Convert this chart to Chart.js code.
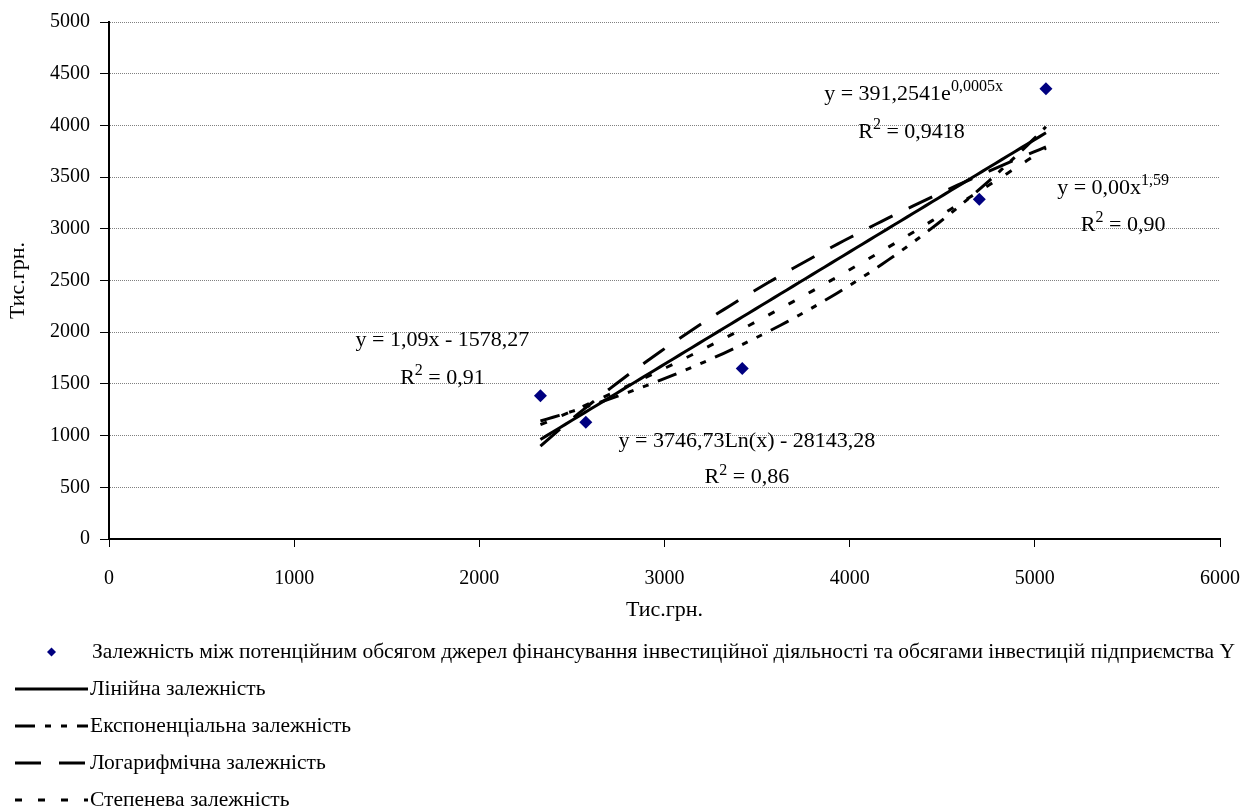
<!DOCTYPE html>
<html>
<head>
<meta charset="utf-8">
<script src="https://cdn.jsdelivr.net/npm/chart.js@4.4.1/dist/chart.umd.min.js"></script>
<style>
  html, body { margin: 0; padding: 0; background: #ffffff; }
  #wrap { width: 1260px; height: 812px; }
</style>
</head>
<body>
<div id="wrap"><canvas id="chart" width="1260" height="812"></canvas></div>
<script>
// Observed pairs: potential volume of financing sources (X) vs. investment volume (Y), thous. UAH
const sourcesX = [2330, 2575, 3420, 4700, 5060];
const investY  = [1385, 1130, 1650, 3285, 4355];

const xTickValues = [0, 1000, 2000, 3000, 4000, 5000, 6000];
const yTickValues = [0, 500, 1000, 1500, 2000, 2500, 3000, 3500, 4000, 4500, 5000];

const seriesNames = [
  'Залежність між потенційним обсягом джерел фінансування інвестиційної діяльності та обсягами інвестицій підприємства Y',
  'Лінійна залежність',
  'Експоненціальна залежність',
  'Логарифмічна залежність',
  'Степенева залежність'
];

const axisTitle = 'Тис.грн.';

// Trendline equation labels (segments; sup = superscript)
const equationLabels = [
  [{ t: 'y = 391,2541e' }, { t: '0,0005x', sup: true }],
  [{ t: 'R' }, { t: '2', sup: true }, { t: ' = 0,9418' }],
  [{ t: 'y = 0,00x' }, { t: '1,59', sup: true }],
  [{ t: 'R' }, { t: '2', sup: true }, { t: ' = 0,90' }],
  [{ t: 'y = 1,09x - 1578,27' }],
  [{ t: 'R' }, { t: '2', sup: true }, { t: ' = 0,91' }],
  [{ t: 'y = 3746,73Ln(x) - 28143,28' }],
  [{ t: 'R' }, { t: '2', sup: true }, { t: ' = 0,86' }]
];
// Where each label sits, in axis units
const labelAnchorX = [4345, 4334, 5423, 5477, 1801, 1801, 3445, 3445];
const labelAnchorY = [4315, 3948, 3407, 3050, 1940, 1573, 956, 608];

const FAMILY = "'Liberation Serif', 'Times New Roman', serif";

// Least-squares fit of v = slope * u + intercept
function leastSquares(u, v) {
  const n = u.length;
  const mu = u.reduce((a, b) => a + b, 0) / n;
  const mv = v.reduce((a, b) => a + b, 0) / n;
  let suv = 0, suu = 0;
  for (let i = 0; i < n; i++) {
    suv += (u[i] - mu) * (v[i] - mv);
    suu += (u[i] - mu) * (u[i] - mu);
  }
  const slope = suv / suu;
  return { slope, intercept: mv - slope * mu };
}

const linFit = leastSquares(sourcesX, investY);
const logFit = leastSquares(sourcesX.map(Math.log), investY);
const expFit = leastSquares(sourcesX, investY.map(Math.log));
const powFit = leastSquares(sourcesX.map(Math.log), investY.map(Math.log));

const trendModels = [
  x => linFit.slope * x + linFit.intercept,
  x => Math.exp(expFit.intercept + expFit.slope * x),
  x => logFit.slope * Math.log(x) + logFit.intercept,
  x => Math.exp(powFit.intercept + powFit.slope * Math.log(x))
];

const xMinData = Math.min(...sourcesX);
const xMaxData = Math.max(...sourcesX);
function trendPoints(model) {
  const pts = [];
  const steps = 80;
  for (let i = 0; i <= steps; i++) {
    const x = xMinData + (xMaxData - xMinData) * i / steps;
    pts.push({ x, y: model(x) });
  }
  return pts;
}

const lineDashes = [[], [20, 10, 6, 10, 6, 10], [26, 18], [7, 16]];

const datasets = [
  {
    label: seriesNames[0],
    type: 'scatter',
    data: sourcesX.map((x, i) => ({ x, y: investY[i] })),
    pointStyle: 'rectRot',
    pointRadius: 6.5,
    pointHoverRadius: 6.5,
    backgroundColor: '#000080',
    borderColor: '#000080',
    borderWidth: 0,
    showLine: false
  }
];
trendModels.forEach((m, i) => {
  datasets.push({
    label: seriesNames[i + 1],
    type: 'line',
    data: trendPoints(m),
    borderColor: '#000000',
    borderWidth: 3,
    borderDash: lineDashes[i],
    pointRadius: 0,
    fill: false,
    tension: 0
  });
});

// Equation labels drawn with superscripts
function drawRich(ctx, segs, cx, cy, size) {
  const supSize = Math.round(size * 0.72);
  let w = 0;
  segs.forEach(s => {
    ctx.font = (s.sup ? supSize : size) + 'px ' + FAMILY;
    w += ctx.measureText(s.t).width;
  });
  let x = cx - w / 2;
  const base = cy + size * 0.33;
  ctx.textBaseline = 'alphabetic';
  ctx.textAlign = 'left';
  segs.forEach(s => {
    ctx.font = (s.sup ? supSize : size) + 'px ' + FAMILY;
    ctx.fillText(s.t, x, s.sup ? base - size * 0.4 : base);
    x += ctx.measureText(s.t).width;
  });
}

const equationPlugin = {
  id: 'equations',
  afterDatasetsDraw(chart) {
    const { ctx, scales } = chart;
    ctx.save();
    ctx.fillStyle = '#000';
    equationLabels.forEach((segs, i) => {
      drawRich(ctx, segs, scales.x.getPixelForValue(labelAnchorX[i]),
        scales.y.getPixelForValue(labelAnchorY[i]), 22);
    });
    ctx.restore();
  }
};

// Vertical legend under the plot
const legendPlugin = {
  id: 'stackedLegend',
  afterDraw(chart) {
    const { ctx } = chart;
    const rowTop = 652, rowGap = 37;
    const sampleL = 15, sampleR = 88, textX = 90;
    ctx.save();
    chart.data.datasets.forEach((ds, i) => {
      const y = rowTop + i * rowGap;
      if (ds.type === 'scatter') {
        const cx = (sampleL + sampleR) / 2, r = 4.5;
        ctx.fillStyle = ds.backgroundColor;
        ctx.beginPath();
        ctx.moveTo(cx, y - r); ctx.lineTo(cx + r, y); ctx.lineTo(cx, y + r); ctx.lineTo(cx - r, y);
        ctx.closePath();
        ctx.fill();
      } else {
        ctx.strokeStyle = ds.borderColor;
        ctx.lineWidth = 3;
        ctx.setLineDash(ds.borderDash);
        ctx.beginPath();
        ctx.moveTo(sampleL, y); ctx.lineTo(sampleR, y);
        ctx.stroke();
        ctx.setLineDash([]);
      }
      ctx.fillStyle = '#000';
      ctx.font = '21.5px ' + FAMILY;
      ctx.textBaseline = 'middle';
      ctx.textAlign = 'left';
      ctx.fillText(ds.label, textX + (i === 0 ? 2 : 0), y);
    });
    ctx.restore();
  }
};

Chart.defaults.font.family = FAMILY;
Chart.defaults.font.size = 20;
Chart.defaults.color = '#000';

new Chart(document.getElementById('chart'), {
  type: 'scatter',
  data: { datasets },
  options: {
    responsive: false,
    animation: false,
    devicePixelRatio: 1,
    layout: { padding: { top: 21, right: 38, bottom: 189, left: 0 } },
    plugins: { legend: { display: false }, tooltip: { enabled: false } },
    scales: {
      x: {
        type: 'linear',
        min: 0, max: 6000,
        afterBuildTicks: s => { s.ticks = xTickValues.map(v => ({ value: v })); },
        afterFit: s => { s.height = 84; },
        ticks: { padding: 20, maxRotation: 0, autoSkip: false, callback: v => String(v) },
        grid: { drawOnChartArea: false, tickColor: '#000', tickLength: 8, tickWidth: 1, tickBorderDash: [] },
        border: { color: '#000', width: 2 },
        title: { display: true, text: axisTitle, font: { size: 22 }, padding: { top: 4, bottom: 0 } }
      },
      y: {
        type: 'linear',
        min: 0, max: 5000,
        afterBuildTicks: s => { s.ticks = yTickValues.map(v => ({ value: v })); },
        afterFit: s => { s.width = 109; },
        ticks: { padding: 10, autoSkip: false, callback: v => String(v) },
        grid: { color: '#808080', lineWidth: 1, tickColor: '#000', tickLength: 9, tickWidth: 1, tickBorderDash: [] },
        border: { color: '#000', width: 2, dash: [1, 1] },
        title: { display: true, text: axisTitle, font: { size: 22 }, padding: { top: 5, bottom: 0 } }
      }
    }
  },
  plugins: [equationPlugin, legendPlugin]
});
</script>
</body>
</html>
